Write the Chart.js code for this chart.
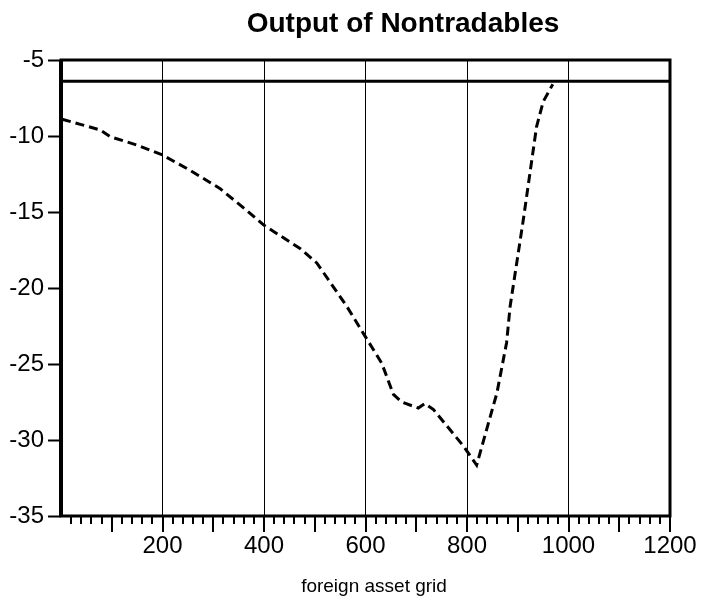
<!DOCTYPE html>
<html>
<head>
<meta charset="utf-8">
<script src="https://cdn.jsdelivr.net/npm/chart.js@4"></script>
<style>
  body { margin: 0; background: #fff; }
  #wrap { width: 701px; height: 602px; }
</style>
</head>
<body>
<div id="wrap"><canvas id="outputChart" width="701" height="602"></canvas></div>
<script>
// foreign asset grid positions and the output of nontradables
const assetGrid = [2, 40, 77, 97, 150, 200, 254, 313, 366, 399, 471, 504, 563, 596, 632, 655, 671, 704, 717, 734, 793, 819, 859, 878, 885, 911, 924, 937, 950, 969];
const outputValues = [-8.9, -9.25, -9.6, -10.05, -10.6, -11.25, -12.25, -13.45, -14.9, -15.85, -17.4, -18.35, -21.2, -23.0, -24.95, -27.0, -27.5, -27.9, -27.6, -28.0, -30.4, -31.65, -26.9, -23.6, -21.2, -15.5, -12.45, -9.4, -7.75, -6.6];

// flat reference line across the whole grid
const refLineX = [0, 1200];
const refLineY = [-6.4, -6.4];

const xTicks = [200, 400, 600, 800, 1000, 1200];
const yTicks = [-35, -30, -25, -20, -15, -10, -5];

const FONT = "'Liberation Sans', Arial, Helvetica, sans-serif";

document.addEventListener('DOMContentLoaded', function() {
    const canvas = document.getElementById('outputChart');
    const ctx = canvas.getContext('2d');

    // frame, minor ticks and the two titles
    const framePlugin = {
        id: 'frame',
        afterDraw(chart) {
            const c = chart.ctx;
            const area = chart.chartArea;
            const xs = chart.scales.x;
            c.save();
            c.strokeStyle = '#000';

            // minor / medium ticks under the x axis
            c.lineWidth = 2;
            for (let v = 20; v <= 1200; v += 20) {
                const px = Math.round(xs.getPixelForValue(v));
                const len = (v % 100 === 0) ? 16 : 8;
                c.beginPath();
                c.moveTo(px, area.bottom);
                c.lineTo(px, area.bottom + len);
                c.stroke();
            }

            // thick box round the plot
            c.lineWidth = 3;
            c.strokeRect(area.left, area.top, area.right - area.left, area.bottom - area.top);
            c.lineWidth = 4;
            c.beginPath();
            c.moveTo(area.left, area.top);
            c.lineTo(area.left, area.bottom + 1);
            c.stroke();

            // titles
            c.fillStyle = '#000';
            c.textAlign = 'center';
            c.textBaseline = 'alphabetic';
            c.font = 'bold 28px ' + FONT;
            c.fillText('Output of Nontradables', 403, 32);
            c.font = '19px ' + FONT;
            c.fillText('foreign asset grid', 374, 592);
            c.restore();
        }
    };

    new Chart(ctx, {
        type: 'line',
        data: {
            datasets: [{
                label: 'Output of Nontradables',
                data: assetGrid.map((x, i) => ({ x: x, y: outputValues[i] })),
                borderColor: '#000',
                borderWidth: 3,
                borderDash: [9, 5],
                pointRadius: 0,
                tension: 0,
                fill: false
            }, {
                label: 'reference',
                data: refLineX.map((x, i) => ({ x: x, y: refLineY[i] })),
                borderColor: '#000',
                borderWidth: 3,
                pointRadius: 0,
                fill: false
            }]
        },
        options: {
            responsive: false,
            animation: false,
            layout: {
                padding: { top: 60, right: 31, left: 0, bottom: 0 }
            },
            plugins: {
                legend: { display: false },
                title: { display: false },
                tooltip: { enabled: false }
            },
            scales: {
                x: {
                    type: 'linear',
                    min: 0,
                    max: 1200,
                    afterBuildTicks: function(scale) {
                        scale.ticks = xTicks.map(v => ({ value: v }));
                    },
                    afterFit: function(scale) {
                        scale.height = 86;
                    },
                    ticks: {
                        color: '#000',
                        font: { family: FONT, size: 24 },
                        padding: 2,
                        maxRotation: 0,
                        autoSkip: false,
                        callback: function(value) {
                            return String(value);
                        }
                    },
                    grid: {
                        color: function(context) {
                            const v = context.tick ? context.tick.value : 0;
                            return (v > 0 && v < 1200) ? '#000' : 'rgba(0,0,0,0)';
                        },
                        lineWidth: 1,
                        tickLength: 14,
                        tickColor: 'rgba(0,0,0,0)'
                    },
                    border: { display: false }
                },
                y: {
                    min: -35,
                    max: -5,
                    afterBuildTicks: function(scale) {
                        scale.ticks = yTicks.map(v => ({ value: v }));
                    },
                    afterFit: function(scale) {
                        scale.width = 61;
                    },
                    ticks: {
                        color: '#000',
                        font: { family: FONT, size: 24 },
                        padding: 4,
                        callback: function(value) {
                            return String(value);
                        }
                    },
                    grid: {
                        drawOnChartArea: false,
                        tickLength: 13,
                        tickColor: '#000',
                        tickWidth: 2
                    },
                    border: { display: false }
                }
            }
        },
        plugins: [framePlugin]
    });
});
</script>
</body>
</html>
